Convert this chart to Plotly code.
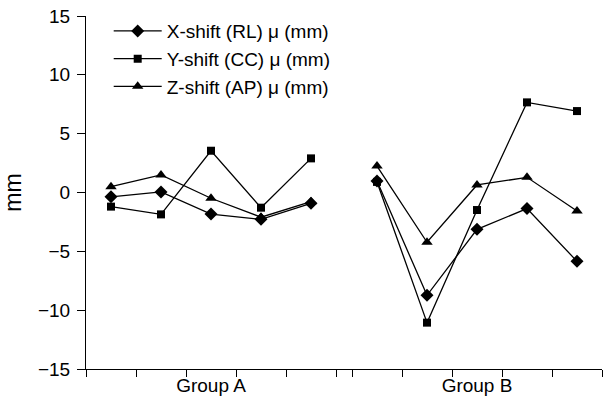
import plotly.graph_objects as go

# Data
groups = ["Group A", "Group B"]
points_per_group = 5
x_shift_a = [-0.37, 0.05, -1.83, -2.28, -0.92]
x_shift_b = [0.98, -8.74, -3.13, -1.37, -5.85]
y_shift_a = [-1.2, -1.86, 3.55, -1.29, 2.9]
y_shift_b = [0.9, -11.06, -1.49, 7.66, 6.92]
z_shift_a = [0.49, 1.49, -0.49, -2.1, -0.78]
z_shift_b = [2.25, -4.23, 0.64, 1.29, -1.57]
y_ticks = [-15, -10, -5, 0, 5, 10, 15]

series = [
    ("X-shift (RL) μ (mm)", x_shift_a, x_shift_b, "diamond", 10),
    ("Y-shift (CC) μ (mm)", y_shift_a, y_shift_b, "square", 8),
    ("Z-shift (AP) μ (mm)", z_shift_a, z_shift_b, "triangle-up", 10),
]

GAP = 0.32  # gap between the two group axes (in category units)
offsets = [0, points_per_group + GAP]

def xs(g):
    return [offsets[g] + i + 0.5 for i in range(points_per_group)]

FONT = "Liberation Sans, Arial, sans-serif"
fig = go.Figure()
for name, a, b, sym, size in series:
    fig.add_trace(go.Scatter(
        x=xs(0) + [None] + xs(1),
        y=a + [None] + b,
        mode="lines+markers",
        name=name,
        connectgaps=False,
        line=dict(color="black", width=1.3),
        marker=dict(symbol=sym, size=size, color="black"),
    ))

tick_x = [offsets[g] + k for g in range(2) for k in range(points_per_group + 1)]
x_end = offsets[1] + points_per_group

fig.update_layout(
    width=603, height=405,
    margin=dict(l=86, r=1, t=16, b=36, autoexpand=False),
    plot_bgcolor="white", paper_bgcolor="white",
    font=dict(family=FONT, size=19, color="black"),
    showlegend=True,
    legend=dict(x=0.044, y=1.011, xanchor="left", yanchor="top",
                bgcolor="rgba(0,0,0,0)", font=dict(size=19),
                itemwidth=48, tracegroupgap=0),
    xaxis=dict(range=[0, x_end], tickvals=tick_x, ticktext=[""] * len(tick_x),
               ticks="outside", ticklen=7, tickcolor="black", tickwidth=1,
               showline=True, linecolor="black", linewidth=1,
               showgrid=False, zeroline=False, fixedrange=True),
    xaxis2=dict(range=[0, x_end], overlaying="x", side="bottom",
                tickvals=[offsets[g] + points_per_group / 2 for g in range(2)],
                ticktext=groups, ticks="", showline=False, showgrid=False,
                zeroline=False, anchor="y", ticklabelstandoff=3),
    yaxis=dict(range=[-15, 15], tickvals=y_ticks,
               ticks="outside", ticklen=8, tickcolor="black", tickwidth=1,
               showline=True, linecolor="black", linewidth=1,
               showgrid=False, zeroline=False, ticklabelstandoff=3,
               title=dict(text="mm", standoff=24)),
)
# dummy trace to activate xaxis2
fig.add_trace(go.Scatter(x=[None], y=[None], xaxis="x2", showlegend=False))

fig.write_html(
    "out.html",
    config={"displayModeBar": False},
    post_script="document.body.style.margin='0';document.body.style.overflow='hidden';",
)
